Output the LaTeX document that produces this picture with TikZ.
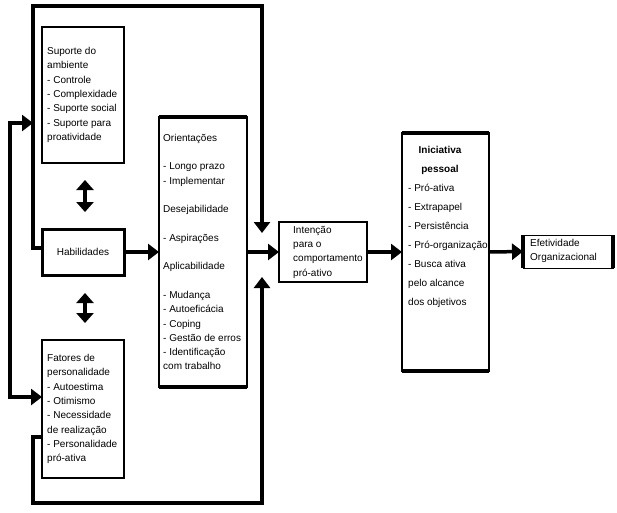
\documentclass[tikz,border=0pt]{standalone}
\usepackage{fontspec}
\setmainfont{Liberation Sans}
\usetikzlibrary{arrows.meta}
\begin{document}
\begin{tikzpicture}[x=1pt,y=-1pt,
  box/.style={draw, line width=1.5pt, inner sep=0pt, outer sep=0pt},
  txt/.style={font=\fontsize{10}{14.3}\selectfont, align=left, inner sep=0pt, anchor=west},
  arr/.style={line width=3.5pt, line join=miter, -{Triangle[length=11pt,width=16pt]}},
  darr/.style={line width=3.5pt, {Triangle[length=10pt,width=17pt]}-{Triangle[length=10pt,width=17pt]}},
  conn/.style={line width=3.5pt, line join=miter}]
\useasboundingbox (0,0) rectangle (617,512);
% boxes
\node[box, minimum width=82pt, minimum height=136pt] (sup) at (83,95) {};
\node[box, line width=3pt, minimum width=82pt, minimum height=46pt] (hab) at (83,252) {};
\node[box, minimum width=82pt, minimum height=138pt] (fat) at (83,409) {};
\node[box, minimum width=88pt, minimum height=270pt] (ori) at (203,252) {};
\node[box, minimum width=88pt, minimum height=60pt] (int) at (323,252) {};
\node[box, minimum width=87pt, minimum height=238pt] (ini) at (445.5,252) {};
\node[box, line width=1pt, minimum width=90pt, minimum height=33pt] (efe) at (568,251.5) {};
% thick edges
\draw[line width=3.5pt] (ori.north west) -- (ori.north east);
\draw[line width=3.5pt] (ori.south west) -- (ori.south east);
\draw[line width=3.5pt] (ini.north west) -- (ini.north east);
\draw[line width=3.5pt] (ini.south west) -- (ini.south east);
\draw[line width=4pt] (efe.north west) -- (efe.south west);
\draw[line width=4pt] (efe.north east) -- (efe.south east);
% texts
\node[txt] (suptxt) at (47,95) {Suporte do\\ambiente\\- Controle\\- Complexidade\\- Suporte social\\- Suporte para\\proatividade};
\node[txt, anchor=center] (habtxt) at (83,252) {Habilidades};
\node[txt] (fattxt) at (47,409) {Fatores de\\personalidade\\- Autoestima\\- Otimismo\\- Necessidade\\de realização\\- Personalidade\\pró-ativa};
\node[txt] (oritxt) at (163,252) {Orientações\\[14.3pt]- Longo prazo\\- Implementar\\[14.3pt]Desejabilidade\\[14.3pt]- Aspirações\\[14.3pt]Aplicabilidade\\[14.3pt]- Mudança\\- Autoeficácia\\- Coping\\- Gestão de erros\\- Identificação\\com trabalho};
\node[txt] (inttxt) at (293,252) {Intenção\\para o\\comportamento\\pró-ativo};
\node[txt, anchor=center, align=center, font=\fontsize{10}{19}\selectfont\bfseries] (initit) at (440,160.5) {Iniciativa\\pessoal};
\node[txt, font=\fontsize{10}{19}\selectfont] (inilist) at (408,246) {- Pró-ativa\\- Extrapapel\\- Persistência\\- Pró-organização\\- Busca ativa\\pelo alcance\\dos objetivos};
\node[txt] (efetxt) at (530,251) {Efetividade\\Organizacional};
% main arrows
\draw[arr] (hab.east) -- (ori.west);
\draw[arr] (ori.east) -- (int.west);
\draw[arr] (int.east) -- (ini.west);
\draw[arr] (ini.east) -- (efe.west);
% double arrows
\draw[darr] ([xshift=2pt,yshift=-17pt]sup.south) -- ([xshift=2pt,yshift=17pt]hab.north);
\draw[darr] ([xshift=2pt,yshift=-18pt]hab.south) -- ([xshift=2pt,yshift=17pt]fat.north);
% loops
\coordinate (topend) at (262,233);
\coordinate (botend) at (262,277);
\draw[arr] ([yshift=4pt]hab.west) -| (33,6) -| (topend);
\draw[arr] ([yshift=-28pt]fat.west) -| (33,503) -| (botend);
% left bracket
\coordinate (lt) at (33,123);
\draw[line width=3.5pt, line join=miter, {Triangle[length=11pt,width=16pt]}-{Triangle[length=11pt,width=16pt]}] (lt) -| (10,260) |- ([yshift=12pt]fat.west);
\end{tikzpicture}
\end{document}
